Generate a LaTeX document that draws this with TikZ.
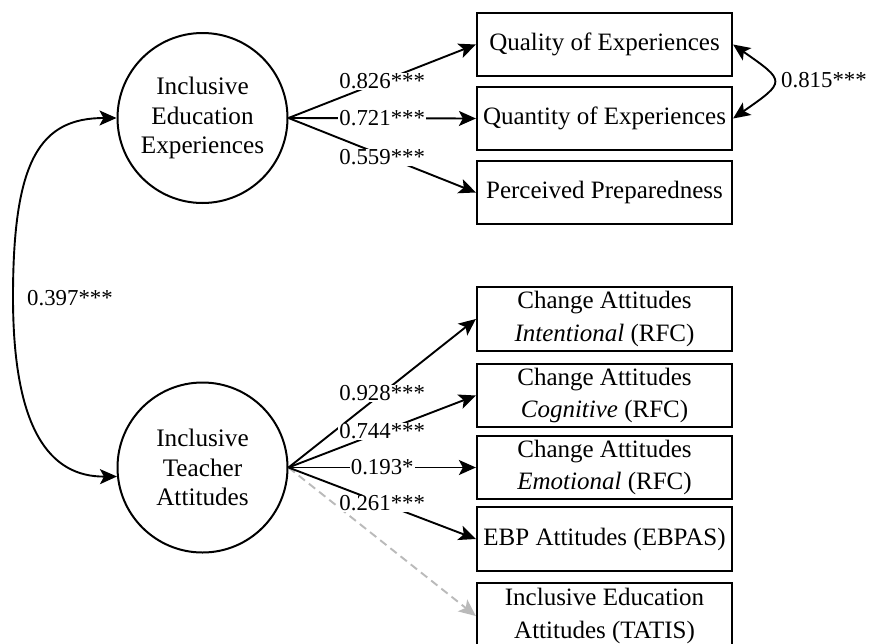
\documentclass[tikz,border=0pt]{standalone}
\usepackage{fontspec}
\setmainfont{Liberation Serif}
\usetikzlibrary{arrows.meta}
\begin{document}
\begin{tikzpicture}[x=1pt,y=-1pt,
  latent/.style={circle,draw,line width=2pt,minimum size=170pt,inner sep=0pt,align=center,font=\fontsize{25.2}{29.5}\selectfont},
  obs/.style={draw,line width=2.2pt,minimum width=255pt,minimum height=63pt,inner sep=0pt,align=center,font=\fontsize{25}{32.5}\selectfont},
  arr/.style={line width=1.9pt,-{Stealth[length=17pt,width=15pt,inset=4pt]}},
  cov/.style={line width=1.9pt,{Stealth[length=17pt,width=15pt,inset=4pt]}-{Stealth[length=17pt,width=15pt,inset=4pt]}},
  coef/.style={fill=white,inner sep=1pt,font=\fontsize{22.8}{26}\selectfont},
  ghost/.style={draw=black!27,dash pattern=on 8pt off 5pt}
]
\clip (0,0) rectangle (877,643);
\fill[white] (0,0) rectangle (877,643);

\node[latent] (IEE) at (202.5,118) {Inclusive\\Education\\Experiences};
\node[latent] (ITA) at (202.5,467.5) {Inclusive\\Teacher\\Attitudes};

\node[obs] (Qual) at (604.5,44.5) {Quality of Experiences};
\node[obs] (Quan) at (604.5,118.5) {Quantity of Experiences};
\node[obs] (Prep) at (604.5,192.5) {Perceived Preparedness};

\node[obs,minimum height=64pt] (Int) at (604.5,319) {Change Attitudes\\\textit{Intentional} (RFC)};
\node[obs] (Cog) at (604.5,395.5) {Change Attitudes\\\textit{Cognitive} (RFC)};
\node[obs] (Emo) at (604.5,467.5) {Change Attitudes\\\textit{Emotional} (RFC)};
\node[obs,minimum height=64pt] (EBP) at (604.5,539) {EBP Attitudes (EBPAS)};
\node[obs,minimum height=66pt] (TAT) at (604.5,616) {Inclusive Education\\Attitudes (TATIS)};

\draw[arr] (IEE.east) -- node[coef]{0.826***} (Qual.west);
\draw[arr] (IEE.east) -- node[coef]{0.721***} (Quan.west);
\draw[arr] (IEE.east) -- node[coef,yshift=-2pt]{0.559***} (Prep.west);

\draw[arr,ghost] (ITA.east) -- (TAT.west);
\draw[arr] (ITA.east) -- node[coef]{0.928***} (Int.west);
\draw[arr] (ITA.east) -- node[coef]{0.744***} (Cog.west);
\draw[arr] (ITA.east) -- node[coef]{0.193*} (Emo.west);
\draw[arr] (ITA.east) -- node[coef]{0.261***} (EBP.west);

\draw[cov] (Qual.east) .. controls +(53,37) and +(53,-37) .. (Quan.east);
\node[anchor=west,font=\fontsize{22.8}{26}\selectfont,inner sep=0pt] (c1) at (781,80) {0.815***};

\draw[cov] (IEE.west) .. controls (40,118) and (13,160) .. (13,297)
  .. controls (13,430) and (50,477) .. (ITA.186);
\node[anchor=west,font=\fontsize{22.8}{26}\selectfont,inner sep=0pt] (c2) at (27,298) {0.397***};
\end{tikzpicture}
\end{document}
